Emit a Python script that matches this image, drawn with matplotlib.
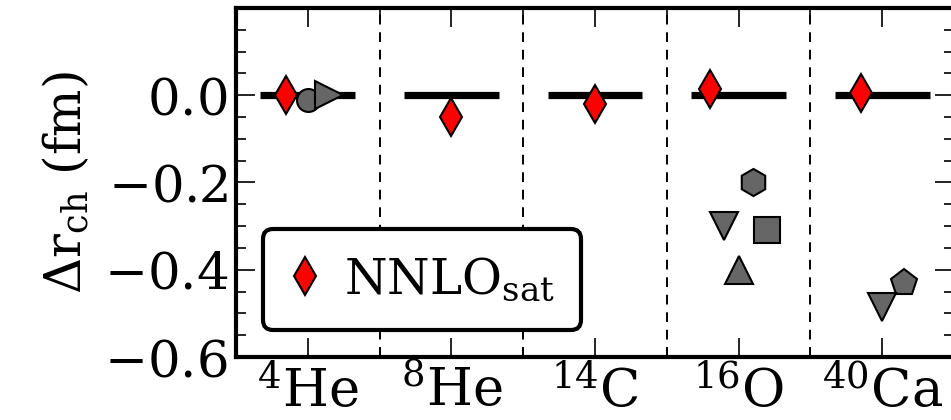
import numpy as np
import matplotlib
matplotlib.use("Agg")
import matplotlib.pyplot as plt

plt.rcParams['font.family'] = 'DejaVu Serif'
plt.rcParams['mathtext.fontset'] = 'dejavuserif'

nuclei = [r'$^{4}\mathrm{He}$', r'$^{8}\mathrm{He}$', r'$^{14}\mathrm{C}$',
          r'$^{16}\mathrm{O}$', r'$^{40}\mathrm{Ca}$']

# NNLOsat points: (nucleus index, x offset, delta r_ch)
nnlo_idx = [0, 1, 2, 3, 4]
nnlo_dx = [-0.15, 0.0, 0.0, -0.2, -0.15]
nnlo_val = [0.0, -0.05, -0.02, 0.015, 0.005]

# other interactions, grey markers
other_marker = ['o', '>', 'h', 'v', 's', '^', 'p', 'v']
other_ms = [16.5, 19.5, 19.5, 19.5, 19, 19.5, 19.5, 19.5]
other_idx = [0, 0, 3, 3, 3, 3, 4, 4]
other_dx = [0.0, 0.15, 0.1, -0.1, 0.2, 0.0, 0.15, 0.0]
other_val = [-0.012, 0.0, -0.198, -0.30, -0.31, -0.40, -0.43, -0.485]

fig = plt.figure(figsize=(9.51, 4.2), dpi=100)
ax = fig.add_axes([0.2482, 0.150, 0.755, 0.831])

x = np.arange(len(nuclei))

# reference line at zero for every nucleus
for xi in x:
    ax.plot([xi - 0.33, xi + 0.33], [0, 0], color='k', lw=5.2,
            solid_capstyle='butt', zorder=2)

for xi in x[:-1]:
    ax.axvline(xi + 0.5, color='k', lw=1.4, dashes=(5, 4), zorder=1)

for m, s, i, dx, v in zip(other_marker, other_ms, other_idx, other_dx, other_val):
    ax.plot(i + dx, v, marker=m, ms=s, color='#666666', mec='k', mew=1.5,
            ls='none', zorder=3)

ax.plot(np.array(nnlo_idx) + np.array(nnlo_dx), nnlo_val, 'd', ms=19.5,
        color='red', mec='k', mew=1.5, ls='none', zorder=4,
        label=r'NNLO$_{\mathrm{sat}}$')

ax.set_xlim(-0.5, 4.5)
ax.set_ylim(-0.6, 0.2)
ax.set_xticks(x)
ax.set_xticks(x[:-1] + 0.5, minor=True)
ax.set_xticklabels(nuclei, fontsize=38)
ax.set_yticks([-0.6, -0.4, -0.2, 0.0])
ax.set_yticks(np.arange(-0.6, 0.201, 0.05), minor=True)
ax.set_yticklabels(['$-0.6$', '$-0.4$', '$-0.2$', '$0.0$'], fontsize=37)
ax.set_ylabel(r'$\Delta\mathrm{r}_{\mathrm{ch}}$ (fm)', fontsize=36, labelpad=8)

ax.tick_params(which='both', direction='in', top=True, right=True, width=1.2)
ax.tick_params(which='major', length=14, pad=6)
ax.tick_params(which='minor', length=7)
for s in ax.spines.values():
    s.set_linewidth(3)

leg = ax.legend(loc='lower left', fontsize=35, numpoints=1, handlelength=0.6,
                handletextpad=0.5, borderpad=0.55, borderaxespad=0,
                fancybox=True, bbox_to_anchor=(0.038, 0.077))
leg.get_frame().set_edgecolor('k')
leg.get_frame().set_linewidth(3)
leg.get_frame().set_alpha(1)

fig.savefig('out.png', dpi=100)
